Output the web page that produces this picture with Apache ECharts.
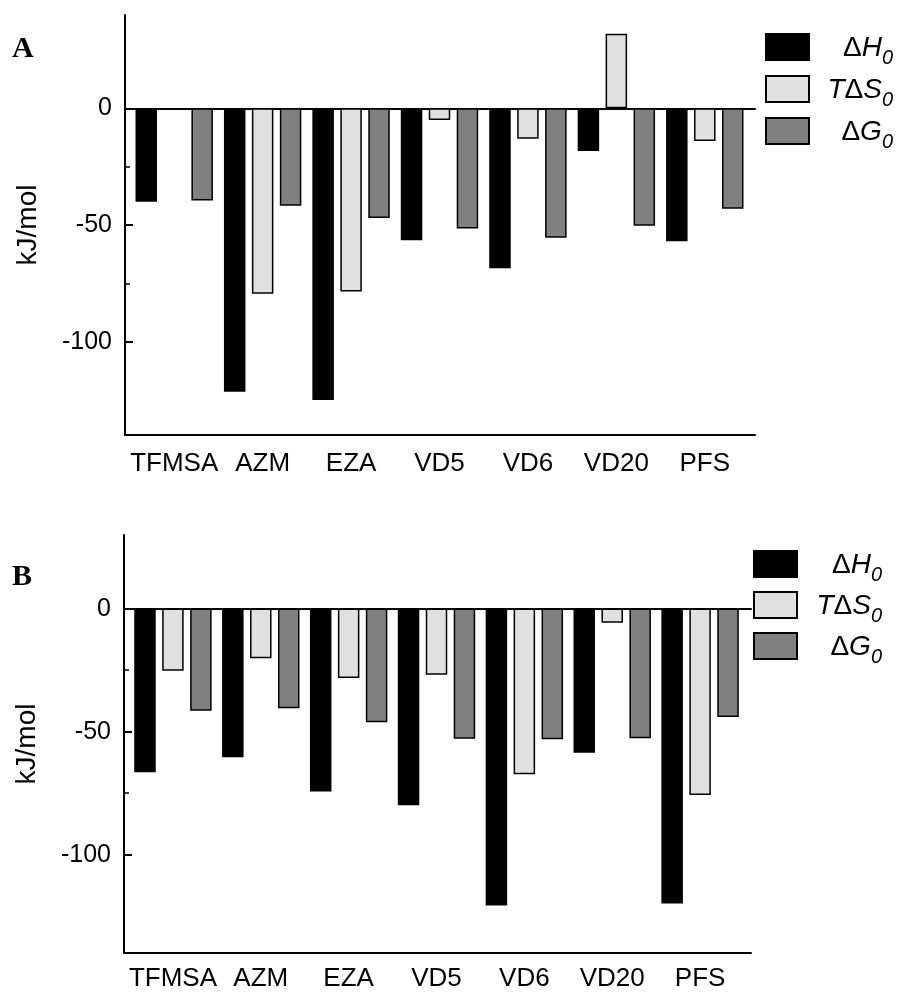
<!DOCTYPE html>
<html>
<head>
<meta charset="utf-8">
<script src="https://cdn.jsdelivr.net/npm/echarts@6/dist/echarts.min.js"></script>
<style>
html,body{margin:0;padding:0;background:#fff;}
#c{width:897px;height:992px;}
</style>
</head>
<body>
<div id="c"></div>
<script>
// ---- data ----
const categories = ['TFMSA', 'AZM', 'EZA', 'VD5', 'VD6', 'VD20', 'PFS'];
const seriesNames = ['ΔH0', 'TΔS0', 'ΔG0'];
// Panel A
const aDH  = [-40, -121.5, -125, -56.5, -68.5, -18.3, -57];
const aTDS = [-0.5, -79.5, -78.5, -5, -13, 32, -14];
const aDG  = [-39.5, -41.7, -47, -51.5, -55.5, -50.3, -43];
// Panel B
const bDH  = [-66.7, -60.6, -74.6, -80.2, -121, -58.8, -120.2];
const bTDS = [-25.3, -20.2, -28.3, -27, -67.5, -5.8, -76];
const bDG  = [-41.6, -40.6, -46.3, -53.1, -53.3, -52.9, -44.2];
// axes
const majorTicks = [0, -50, -100];
const minorTicks = [-25, -75];
const rangeA = [-140, 40];
const rangeB = [-140, 30];
const yName = 'kJ/mol';
const panelLabels = ['A', 'B'];

const colors = ['#000000', '#e0e0e0', '#808080'];
const SANS = 'Liberation Sans, Arial, sans-serif';
const SERIF = 'Liberation Serif, Times New Roman, serif';

const legendRich = {
  'ΔH0': '{n|Δ}{i|H}{s|0}',
  'TΔS0': '{i|T}{n|Δ}{i|S}{s|0}',
  'ΔG0': '{n|Δ}{i|G}{s|0}'
};

function legendCfg(left, top, gap, textW) {
  return {
    orient: 'vertical', left: left, top: top, padding: 0,
    itemWidth: 43, itemHeight: 26, itemGap: gap,
    icon: 'rect',
    data: seriesNames,
    selectedMode: false,
    itemStyle: { borderColor: '#000', borderWidth: 2 },
    formatter: function (n) { return legendRich[n]; },
    textStyle: {
      width: textW, color: '#000', fontFamily: SANS,
      rich: {
        n: { fontSize: 28, padding: [9, 0, 0, 0], verticalAlign: 'top', align: 'right', color: '#000', fontFamily: SANS },
        i: { fontSize: 28, padding: [9, 0, 0, 0], verticalAlign: 'top', align: 'right', fontStyle: 'italic', color: '#000', fontFamily: SANS },
        s: { fontSize: 20, padding: [23, 0, 0, 0], verticalAlign: 'top', align: 'right', fontStyle: 'italic', color: '#000', fontFamily: SANS }
      }
    }
  };
}

function frameX(gridIndex, zero, zeroAxisIndex) {
  return {
    type: 'value', gridIndex: gridIndex, position: 'bottom', min: 0, max: 1,
    axisLine: zero ? { show: true, onZero: true, onZeroAxisIndex: zeroAxisIndex, lineStyle: { color: '#000', width: 2 } }
                   : { show: true, onZero: false, lineStyle: { color: '#000', width: 2 } },
    axisTick: { show: false }, axisLabel: { show: false }, splitLine: { show: false }
  };
}
function catX(gridIndex, margin) {
  return {
    type: 'category', gridIndex: gridIndex, data: categories, position: 'bottom',
    axisLine: { show: false, onZero: false }, axisTick: { show: false },
    axisLabel: { color: '#000', fontSize: 26, fontFamily: SANS, margin: margin, interval: 0 },
    splitLine: { show: false }
  };
}
function mainY(gridIndex, range) {
  return {
    type: 'value', gridIndex: gridIndex, position: 'left', min: range[0], max: range[1],
    name: yName, nameLocation: 'middle', nameGap: 83, nameRotate: 90,
    nameTextStyle: { color: '#000', fontSize: 28, fontFamily: SANS },
    axisLine: { show: true, onZero: false, lineStyle: { color: '#000', width: 2 } },
    axisTick: { show: false },
    axisLabel: { color: '#000', fontSize: 25, fontFamily: SANS, margin: 13, customValues: majorTicks },
    splitLine: { show: false }
  };
}
function tickY(gridIndex, range, values, len, w) {
  return {
    type: 'value', gridIndex: gridIndex, position: 'left', min: range[0], max: range[1],
    axisLine: { show: false, onZero: false },
    axisTick: { show: true, inside: true, length: len, lineStyle: { color: '#000', width: w }, customValues: values },
    axisLabel: { show: false, customValues: values },
    splitLine: { show: false }
  };
}
function hiddenY(gridIndex, range) {
  return { type: 'value', gridIndex: gridIndex, min: range[0], max: range[1], show: false, splitLine: { show: false } };
}
function bar(name, data, color, xi, yi) {
  return {
    type: 'bar', name: name, data: data, xAxisIndex: xi, yAxisIndex: yi,
    barWidth: 21.5, barGap: '30%',
    itemStyle: { color: color, borderColor: '#000', borderWidth: 1.5 },
    emphasis: { disabled: true }, animation: false
  };
}

const option = {
  animation: false,
  backgroundColor: '#fff',
  title: [
    { text: panelLabels[0], left: 12, top: 34, padding: 0, textStyle: { fontFamily: SERIF, fontWeight: 'bold', fontSize: 30, color: '#000' } },
    { text: panelLabels[1], left: 12, top: 562, padding: 0, textStyle: { fontFamily: SERIF, fontWeight: 'bold', fontSize: 30, color: '#000' } }
  ],
  legend: [legendCfg(765, 33, 6.5, 79), legendCfg(753, 550, 5.5, 80)],
  grid: [
    { left: 125, top: 15, width: 630, height: 420 },
    { left: 130, top: 15, width: 619, height: 420 },
    { left: 124, top: 535, width: 627, height: 418 },
    { left: 129, top: 535, width: 615, height: 418 }
  ],
  xAxis: [
    frameX(0, false), frameX(0, true, 0), catX(1, 16),
    frameX(2, false), frameX(2, true, 4), catX(3, 14)
  ],
  yAxis: [
    mainY(0, rangeA), tickY(0, rangeA, majorTicks, 8, 2), tickY(0, rangeA, minorTicks, 5, 1.5), hiddenY(1, rangeA),
    mainY(2, rangeB), tickY(2, rangeB, majorTicks, 8, 2), tickY(2, rangeB, minorTicks, 5, 1.5), hiddenY(3, rangeB)
  ],
  series: [
    bar(seriesNames[0], aDH, colors[0], 2, 3),
    bar(seriesNames[1], aTDS, colors[1], 2, 3),
    bar(seriesNames[2], aDG, colors[2], 2, 3),
    bar(seriesNames[0], bDH, colors[0], 5, 7),
    bar(seriesNames[1], bTDS, colors[1], 5, 7),
    bar(seriesNames[2], bDG, colors[2], 5, 7)
  ]
};

const chart = echarts.init(document.getElementById('c'), null, { renderer: 'canvas' });
chart.setOption(option);
</script>
</body>
</html>
